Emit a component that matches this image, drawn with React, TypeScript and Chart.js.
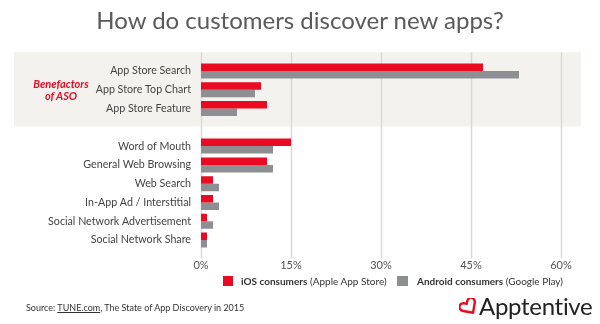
import React, { useEffect, useRef } from "react";
import { Chart, registerables } from "chart.js";

Chart.register(...registerables);

const categories = [
  "App Store Search",
  "App Store Top Chart",
  "App Store Feature",
  "",
  "Word of Mouth",
  "General Web Browsing",
  "Web Search",
  "In-App Ad / Interstitial",
  "Social Network Advertisement",
  "Social Network Share",
];
const iosValues = [47, 10, 11, null, 15, 11, 2, 2, 1, 1];
const androidValues = [53, 9, 6, null, 12, 12, 3, 3, 2, 1];
const xTicks = [0, 15, 30, 45, 60];

const RED = "#ea0a22";
const GRAY = "#8e8f93";
const BAND = "#f4f2ee";
const GRID = "#d9d9d9";

const bgPlugin = {
  id: "bgBand",
  beforeDraw(chart: any) {
    const { ctx, scales, chartArea } = chart;
    const y = scales.y;
    const x = scales.x;
    const y0 = y.getPixelForValue(0);
    const y2 = y.getPixelForValue(2);
    const step = (y2 - y0) / 2;
    const top = y0 - step;
    const bottom = y2 + step * 0.95;
    ctx.save();
    ctx.fillStyle = BAND;
    ctx.fillRect(14, top, 567, bottom - top);
    ctx.strokeStyle = GRID;
    ctx.lineWidth = 1.5;
    for (const t of xTicks) {
      const px = Math.round(x.getPixelForValue(t)) + 0.5;
      ctx.beginPath();
      ctx.moveTo(px, top);
      ctx.lineTo(px, chartArea.bottom + 9);
      ctx.stroke();
    }
    ctx.restore();
  },
};

export default function App() {
  const ref = useRef<HTMLCanvasElement | null>(null);
  useEffect(() => {
    if (!ref.current) return;
    const chart = new Chart(ref.current, {
      type: "bar",
      data: {
        labels: categories,
        datasets: [
          {
            label: "iOS consumers (Apple App Store)",
            data: iosValues as any,
            backgroundColor: RED,
            categoryPercentage: 0.8,
            barPercentage: 1.0,
          },
          {
            label: "Android consumers (Google Play)",
            data: androidValues as any,
            backgroundColor: GRAY,
            categoryPercentage: 0.8,
            barPercentage: 1.0,
          },
        ],
      },
      options: {
        indexAxis: "y",
        responsive: false,
        animation: false,
        layout: { padding: { top: 61.6, right: 39, bottom: 54.6, left: 0 } },
        plugins: { legend: { display: false }, title: { display: false }, tooltip: { enabled: false } },
        scales: {
          x: {
            min: 0,
            max: 60,
            afterFit: (s: any) => { s.height = 20; },
            afterBuildTicks: (s: any) => { s.ticks = xTicks.map((v) => ({ value: v })); },
            grid: { display: false, drawTicks: false },
            border: { display: false },
            ticks: {
              padding: 9,
              color: "#555",
              font: { family: "Lato", size: 11 },
              callback: (v: any) => v + "%",
            },
          },
          y: {
            afterFit: (s: any) => { s.width = 201; },
            grid: { display: false, drawTicks: false },
            border: { display: false },
            ticks: {
              padding: 10,
              color: "#444",
              font: { family: "Lato", size: 10.7 },
            },
          },
        },
      },
      plugins: [bgPlugin],
    });
    return () => chart.destroy();
  }, []);

  const legendText: React.CSSProperties = {
    position: "absolute",
    fontFamily: "Lato",
    fontSize: 10,
    color: "#333",
    whiteSpace: "nowrap",
    lineHeight: "12px",
  };

  return (
    <div style={{ position: "fixed", left: 0, top: 0, width: 600, height: 324, background: "#fff", overflow: "hidden" }}>
      <canvas ref={ref} width={600} height={324} style={{ position: "absolute", left: 0, top: 0, width: 600, height: 324 }} />
      <div style={{ position: "absolute", left: 0, top: 5, width: 600, textAlign: "center", fontFamily: "Lato", fontSize: 24, color: "#5a5a5a", lineHeight: "29px" }}>
        How do customers discover new apps?
      </div>
      <div style={{ position: "absolute", left: 20, top: 78, width: 82, textAlign: "center", fontFamily: "Lato", fontSize: 11, fontWeight: 700, fontStyle: "italic", color: RED, lineHeight: "12px" }}>
        Benefactors<br />of ASO
      </div>
      <div style={{ position: "absolute", left: 223, top: 276, width: 10, height: 10, background: RED }} />
      <div style={{ ...legendText, left: 241, top: 275 }}>
        <b>iOS consumers</b> (Apple App Store)
      </div>
      <div style={{ position: "absolute", left: 397, top: 276, width: 11, height: 10, background: GRAY }} />
      <div style={{ ...legendText, left: 417, top: 275 }}>
        <b>Android consumers</b> (Google Play)
      </div>
      <div style={{ position: "absolute", left: 26, top: 302, fontFamily: "Lato", fontSize: 9, color: "#333", whiteSpace: "nowrap", lineHeight: "11px" }}>
        Source: <span style={{ textDecoration: "underline" }}>TUNE.com</span>, The State of App Discovery in 2015
      </div>
      <svg style={{ position: "absolute", left: 459, top: 298 }} width="20" height="18" viewBox="0 0 20 18">
        <path d="M10 16 L3 9 C0 6 2 1 6 2 C8 2.5 9 4 10 5 C11 4 12 2.5 14 2 C18 1 20 6 17 9 Z" fill="none" stroke={RED} strokeWidth="2.4" strokeLinejoin="round" transform="rotate(-35 10 9)" />
      </svg>
      <div style={{ position: "absolute", left: 479, top: 292, fontFamily: "Lato", fontSize: 24, color: "#222", whiteSpace: "nowrap", lineHeight: "28px", letterSpacing: "-0.3px" }}>
        Apptentive
      </div>
    </div>
  );
}
